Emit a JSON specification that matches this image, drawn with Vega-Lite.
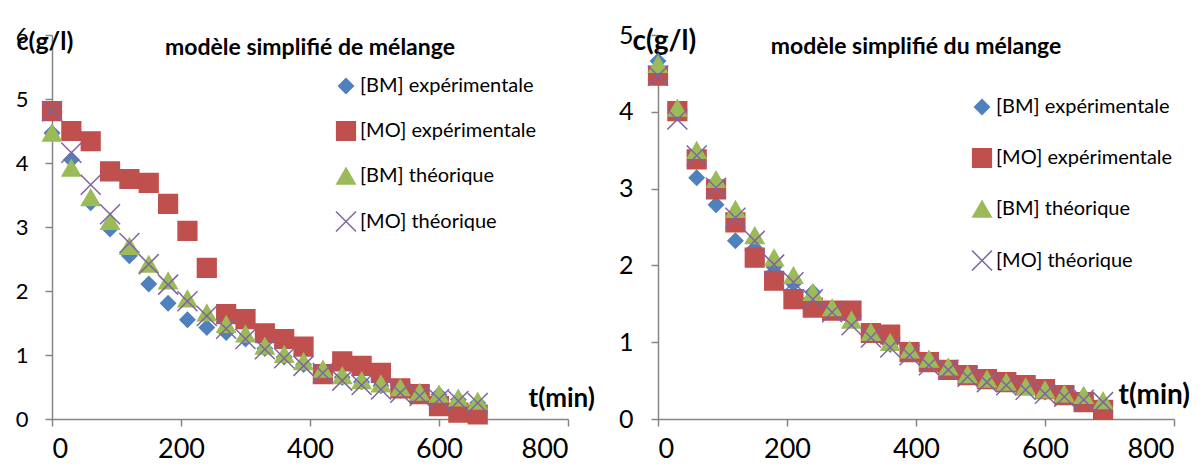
{
  "$schema": "https://vega.github.io/schema/vega-lite/v6.json",
  "padding": {"left": 15, "top": 23, "right": 5, "bottom": 5},
  "background": "white",
  "spacing": 23,
  "config": {
    "font": "Lato",
    "view": {"stroke": null},
    "axis": {"grid": false, "domainColor": "#868686", "domainWidth": 1.5, "tickColor": "#868686", "tickWidth": 1.5, "tickSize": 7, "labelFont": "Lato", "labelColor": "#000000", "titleFont": "Lato", "titleColor": "#000000", "titleFontWeight": "bold"},
    "legend": {"labelFont": "Lato", "labelFontSize": 20, "labelColor": "#000000", "labelLimit": 400, "symbolSize": 100, "symbolStrokeWidth": 1.5, "labelOffset": 3, "title": null},
    "title": {"font": "Lato", "fontWeight": "bold", "fontSize": 23, "color": "#000000"}
  },
  "datasets": {
    "left": [
      {"t":0,"c":4.47,"s":"[BM] expérimentale"},{"t":30,"c":4.05,"s":"[BM] expérimentale"},{"t":60,"c":3.38,"s":"[BM] expérimentale"},{"t":90,"c":2.97,"s":"[BM] expérimentale"},{"t":120,"c":2.55,"s":"[BM] expérimentale"},{"t":150,"c":2.11,"s":"[BM] expérimentale"},{"t":180,"c":1.81,"s":"[BM] expérimentale"},{"t":210,"c":1.55,"s":"[BM] expérimentale"},{"t":240,"c":1.43,"s":"[BM] expérimentale"},{"t":270,"c":1.35,"s":"[BM] expérimentale"},{"t":300,"c":1.25,"s":"[BM] expérimentale"},{"t":330,"c":1.1,"s":"[BM] expérimentale"},{"t":360,"c":0.97,"s":"[BM] expérimentale"},{"t":390,"c":0.85,"s":"[BM] expérimentale"},{"t":420,"c":0.72,"s":"[BM] expérimentale"},{"t":450,"c":0.65,"s":"[BM] expérimentale"},{"t":480,"c":0.58,"s":"[BM] expérimentale"},{"t":510,"c":0.52,"s":"[BM] expérimentale"},{"t":540,"c":0.45,"s":"[BM] expérimentale"},{"t":570,"c":0.4,"s":"[BM] expérimentale"},{"t":600,"c":0.38,"s":"[BM] expérimentale"},{"t":630,"c":0.3,"s":"[BM] expérimentale"},{"t":660,"c":0.25,"s":"[BM] expérimentale"},
      {"t":0,"c":4.81,"s":"[MO] expérimentale"},{"t":30,"c":4.5,"s":"[MO] expérimentale"},{"t":60,"c":4.34,"s":"[MO] expérimentale"},{"t":90,"c":3.87,"s":"[MO] expérimentale"},{"t":120,"c":3.75,"s":"[MO] expérimentale"},{"t":150,"c":3.69,"s":"[MO] expérimentale"},{"t":180,"c":3.36,"s":"[MO] expérimentale"},{"t":210,"c":2.94,"s":"[MO] expérimentale"},{"t":240,"c":2.36,"s":"[MO] expérimentale"},{"t":270,"c":1.64,"s":"[MO] expérimentale"},{"t":300,"c":1.56,"s":"[MO] expérimentale"},{"t":330,"c":1.34,"s":"[MO] expérimentale"},{"t":360,"c":1.25,"s":"[MO] expérimentale"},{"t":390,"c":1.13,"s":"[MO] expérimentale"},{"t":420,"c":0.7,"s":"[MO] expérimentale"},{"t":450,"c":0.9,"s":"[MO] expérimentale"},{"t":480,"c":0.83,"s":"[MO] expérimentale"},{"t":510,"c":0.72,"s":"[MO] expérimentale"},{"t":540,"c":0.48,"s":"[MO] expérimentale"},{"t":570,"c":0.39,"s":"[MO] expérimentale"},{"t":600,"c":0.2,"s":"[MO] expérimentale"},{"t":630,"c":0.1,"s":"[MO] expérimentale"},{"t":660,"c":0.07,"s":"[MO] expérimentale"},
      {"t":0,"c":4.47,"s":"[BM] théorique"},{"t":30,"c":3.92,"s":"[BM] théorique"},{"t":60,"c":3.46,"s":"[BM] théorique"},{"t":90,"c":3.09,"s":"[BM] théorique"},{"t":120,"c":2.7,"s":"[BM] théorique"},{"t":150,"c":2.42,"s":"[BM] théorique"},{"t":180,"c":2.16,"s":"[BM] théorique"},{"t":210,"c":1.88,"s":"[BM] théorique"},{"t":240,"c":1.66,"s":"[BM] théorique"},{"t":270,"c":1.48,"s":"[BM] théorique"},{"t":300,"c":1.33,"s":"[BM] théorique"},{"t":330,"c":1.14,"s":"[BM] théorique"},{"t":360,"c":1.01,"s":"[BM] théorique"},{"t":390,"c":0.9,"s":"[BM] théorique"},{"t":420,"c":0.78,"s":"[BM] théorique"},{"t":450,"c":0.68,"s":"[BM] théorique"},{"t":480,"c":0.6,"s":"[BM] théorique"},{"t":510,"c":0.55,"s":"[BM] théorique"},{"t":540,"c":0.49,"s":"[BM] théorique"},{"t":570,"c":0.42,"s":"[BM] théorique"},{"t":600,"c":0.39,"s":"[BM] théorique"},{"t":630,"c":0.33,"s":"[BM] théorique"},{"t":660,"c":0.28,"s":"[BM] théorique"},
      {"t":0,"c":4.81,"s":"[MO] théorique"},{"t":30,"c":4.16,"s":"[MO] théorique"},{"t":60,"c":3.66,"s":"[MO] théorique"},{"t":90,"c":3.2,"s":"[MO] théorique"},{"t":120,"c":2.75,"s":"[MO] théorique"},{"t":150,"c":2.42,"s":"[MO] théorique"},{"t":180,"c":2.1,"s":"[MO] théorique"},{"t":210,"c":1.84,"s":"[MO] théorique"},{"t":240,"c":1.61,"s":"[MO] théorique"},{"t":270,"c":1.41,"s":"[MO] théorique"},{"t":300,"c":1.25,"s":"[MO] théorique"},{"t":330,"c":1.09,"s":"[MO] théorique"},{"t":360,"c":0.95,"s":"[MO] théorique"},{"t":390,"c":0.83,"s":"[MO] théorique"},{"t":420,"c":0.72,"s":"[MO] théorique"},{"t":450,"c":0.6,"s":"[MO] théorique"},{"t":480,"c":0.53,"s":"[MO] théorique"},{"t":510,"c":0.46,"s":"[MO] théorique"},{"t":540,"c":0.41,"s":"[MO] théorique"},{"t":570,"c":0.36,"s":"[MO] théorique"},{"t":600,"c":0.31,"s":"[MO] théorique"},{"t":630,"c":0.28,"s":"[MO] théorique"},{"t":660,"c":0.25,"s":"[MO] théorique"}
    ],
    "right": [
      {"t":0,"c":4.66,"s":"[BM] expérimentale"},{"t":30,"c":4.0,"s":"[BM] expérimentale"},{"t":60,"c":3.14,"s":"[BM] expérimentale"},{"t":90,"c":2.79,"s":"[BM] expérimentale"},{"t":120,"c":2.32,"s":"[BM] expérimentale"},{"t":150,"c":2.2,"s":"[BM] expérimentale"},{"t":180,"c":1.98,"s":"[BM] expérimentale"},{"t":210,"c":1.76,"s":"[BM] expérimentale"},{"t":240,"c":1.65,"s":"[BM] expérimentale"},{"t":270,"c":1.42,"s":"[BM] expérimentale"},{"t":300,"c":1.3,"s":"[BM] expérimentale"},{"t":330,"c":1.12,"s":"[BM] expérimentale"},{"t":360,"c":0.97,"s":"[BM] expérimentale"},{"t":390,"c":0.86,"s":"[BM] expérimentale"},{"t":420,"c":0.76,"s":"[BM] expérimentale"},{"t":450,"c":0.65,"s":"[BM] expérimentale"},{"t":480,"c":0.55,"s":"[BM] expérimentale"},{"t":510,"c":0.5,"s":"[BM] expérimentale"},{"t":540,"c":0.46,"s":"[BM] expérimentale"},{"t":570,"c":0.42,"s":"[BM] expérimentale"},{"t":600,"c":0.35,"s":"[BM] expérimentale"},{"t":630,"c":0.3,"s":"[BM] expérimentale"},{"t":660,"c":0.29,"s":"[BM] expérimentale"},{"t":690,"c":0.2,"s":"[BM] expérimentale"},
      {"t":0,"c":4.47,"s":"[MO] expérimentale"},{"t":30,"c":4.01,"s":"[MO] expérimentale"},{"t":60,"c":3.38,"s":"[MO] expérimentale"},{"t":90,"c":2.99,"s":"[MO] expérimentale"},{"t":120,"c":2.56,"s":"[MO] expérimentale"},{"t":150,"c":2.1,"s":"[MO] expérimentale"},{"t":180,"c":1.8,"s":"[MO] expérimentale"},{"t":210,"c":1.56,"s":"[MO] expérimentale"},{"t":240,"c":1.45,"s":"[MO] expérimentale"},{"t":270,"c":1.41,"s":"[MO] expérimentale"},{"t":300,"c":1.41,"s":"[MO] expérimentale"},{"t":330,"c":1.12,"s":"[MO] expérimentale"},{"t":360,"c":1.1,"s":"[MO] expérimentale"},{"t":390,"c":0.87,"s":"[MO] expérimentale"},{"t":420,"c":0.74,"s":"[MO] expérimentale"},{"t":450,"c":0.64,"s":"[MO] expérimentale"},{"t":480,"c":0.57,"s":"[MO] expérimentale"},{"t":510,"c":0.52,"s":"[MO] expérimentale"},{"t":540,"c":0.48,"s":"[MO] expérimentale"},{"t":570,"c":0.44,"s":"[MO] expérimentale"},{"t":600,"c":0.39,"s":"[MO] expérimentale"},{"t":630,"c":0.31,"s":"[MO] expérimentale"},{"t":660,"c":0.22,"s":"[MO] expérimentale"},{"t":690,"c":0.12,"s":"[MO] expérimentale"},
      {"t":0,"c":4.62,"s":"[BM] théorique"},{"t":30,"c":4.05,"s":"[BM] théorique"},{"t":60,"c":3.5,"s":"[BM] théorique"},{"t":90,"c":3.12,"s":"[BM] théorique"},{"t":120,"c":2.73,"s":"[BM] théorique"},{"t":150,"c":2.39,"s":"[BM] théorique"},{"t":180,"c":2.1,"s":"[BM] théorique"},{"t":210,"c":1.87,"s":"[BM] théorique"},{"t":240,"c":1.65,"s":"[BM] théorique"},{"t":270,"c":1.45,"s":"[BM] théorique"},{"t":300,"c":1.29,"s":"[BM] théorique"},{"t":330,"c":1.13,"s":"[BM] théorique"},{"t":360,"c":1.0,"s":"[BM] théorique"},{"t":390,"c":0.9,"s":"[BM] théorique"},{"t":420,"c":0.78,"s":"[BM] théorique"},{"t":450,"c":0.68,"s":"[BM] théorique"},{"t":480,"c":0.58,"s":"[BM] théorique"},{"t":510,"c":0.52,"s":"[BM] théorique"},{"t":540,"c":0.48,"s":"[BM] théorique"},{"t":570,"c":0.42,"s":"[BM] théorique"},{"t":600,"c":0.38,"s":"[BM] théorique"},{"t":630,"c":0.33,"s":"[BM] théorique"},{"t":660,"c":0.31,"s":"[BM] théorique"},{"t":690,"c":0.24,"s":"[BM] théorique"},
      {"t":0,"c":4.47,"s":"[MO] théorique"},{"t":30,"c":3.9,"s":"[MO] théorique"},{"t":60,"c":3.43,"s":"[MO] théorique"},{"t":90,"c":3.01,"s":"[MO] théorique"},{"t":120,"c":2.62,"s":"[MO] théorique"},{"t":150,"c":2.32,"s":"[MO] théorique"},{"t":180,"c":2.01,"s":"[MO] théorique"},{"t":210,"c":1.78,"s":"[MO] théorique"},{"t":240,"c":1.56,"s":"[MO] théorique"},{"t":270,"c":1.39,"s":"[MO] théorique"},{"t":300,"c":1.22,"s":"[MO] théorique"},{"t":330,"c":1.06,"s":"[MO] théorique"},{"t":360,"c":0.93,"s":"[MO] théorique"},{"t":390,"c":0.83,"s":"[MO] théorique"},{"t":420,"c":0.7,"s":"[MO] théorique"},{"t":450,"c":0.64,"s":"[MO] théorique"},{"t":480,"c":0.55,"s":"[MO] théorique"},{"t":510,"c":0.48,"s":"[MO] théorique"},{"t":540,"c":0.44,"s":"[MO] théorique"},{"t":570,"c":0.38,"s":"[MO] théorique"},{"t":600,"c":0.33,"s":"[MO] théorique"},{"t":630,"c":0.29,"s":"[MO] théorique"},{"t":660,"c":0.25,"s":"[MO] théorique"},{"t":690,"c":0.22,"s":"[MO] théorique"}
    ]
  },
  "resolve": {"scale": {"color": "independent", "stroke": "independent", "shape": "independent", "size": "independent"}, "legend": {"color": "independent", "stroke": "independent", "shape": "independent"}},
  "hconcat": [
    {
      "width": 516, "height": 384,
      "data": {"name": "left"},
      "title": {"text": "modèle simplifié de mélange", "anchor": "middle", "offset": -36},
      "mark": {"type": "point", "filled": true, "strokeWidth": 1.5, "opacity": 1},
      "encoding": {
        "x": {"field": "t", "type": "quantitative", "scale": {"domain": [0, 800], "nice": false}, "axis": {"values": [0, 200, 400, 600, 800], "labelFontSize": 27, "labelPadding": 10, "title": "t(min)", "titleAngle": 0, "titleFontSize": 26, "titleAlign": "left", "titleBaseline": "middle", "titleX": 476, "titleY": -21}},
        "y": {"field": "c", "type": "quantitative", "scale": {"domain": [0, 6], "nice": false}, "axis": {"values": [0, 1, 2, 3, 4, 5, 6], "labelFontSize": 22, "labelPadding": 17, "title": "c(g/l)", "titleAngle": 0, "titleFontSize": 25, "titleAlign": "left", "titleBaseline": "middle", "titleX": -36, "titleY": 6}},
        "color": {"field": "s", "type": "nominal", "scale": {"domain": ["[BM] expérimentale", "[MO] expérimentale", "[BM] théorique", "[MO] théorique"], "range": ["#4F81BD", "#C0504D", "#9BBB59", "#8064A2"]}, "legend": {"orient": "none", "legendX": 283, "legendY": 41, "rowPadding": 21.5}},
        "stroke": {"field": "s", "type": "nominal", "scale": {"domain": ["[BM] expérimentale", "[MO] expérimentale", "[BM] théorique", "[MO] théorique"], "range": ["#4F81BD", "#C0504D", "#9BBB59", "#8064A2"]}, "legend": {"orient": "none", "legendX": 283, "legendY": 41, "rowPadding": 21.5}},
        "shape": {"field": "s", "type": "nominal", "scale": {"domain": ["[BM] expérimentale", "[MO] expérimentale", "[BM] théorique", "[MO] théorique"], "range": ["diamond", "square", "triangle-up", "M-1,-1L1,1M-1,1L1,-1"]}, "legend": {"orient": "none", "legendX": 283, "legendY": 41, "rowPadding": 21.5}},
        "size": {"field": "s", "type": "nominal", "scale": {"type": "ordinal", "domain": ["[BM] expérimentale", "[MO] expérimentale", "[BM] théorique", "[MO] théorique"], "range": [220, 350, 340, 400]}, "legend": null}
      }
    },
    {
      "width": 516, "height": 384,
      "data": {"name": "right"},
      "title": {"text": "modèle simplifié du mélange", "anchor": "middle", "offset": -36},
      "mark": {"type": "point", "filled": true, "strokeWidth": 1.5, "opacity": 1},
      "encoding": {
        "x": {"field": "t", "type": "quantitative", "scale": {"domain": [0, 800], "nice": false}, "axis": {"values": [0, 200, 400, 600, 800], "labelFontSize": 27, "labelPadding": 10, "title": "t(min)", "titleAngle": 0, "titleFontSize": 28, "titleAlign": "left", "titleBaseline": "middle", "titleX": 460, "titleY": -24}},
        "y": {"field": "c", "type": "quantitative", "scale": {"domain": [0, 5], "nice": false}, "axis": {"values": [0, 1, 2, 3, 4, 5], "labelFontSize": 25, "labelPadding": 18, "title": "c(g/l)", "titleAngle": 0, "titleFontSize": 28, "titleAlign": "left", "titleBaseline": "middle", "titleX": -26, "titleY": 6}},
        "color": {"field": "s", "type": "nominal", "scale": {"domain": ["[BM] expérimentale", "[MO] expérimentale", "[BM] théorique", "[MO] théorique"], "range": ["#4F81BD", "#C0504D", "#9BBB59", "#8064A2"]}, "legend": {"orient": "none", "legendX": 313, "legendY": 62, "rowPadding": 27.5}},
        "stroke": {"field": "s", "type": "nominal", "scale": {"domain": ["[BM] expérimentale", "[MO] expérimentale", "[BM] théorique", "[MO] théorique"], "range": ["#4F81BD", "#C0504D", "#9BBB59", "#8064A2"]}, "legend": {"orient": "none", "legendX": 313, "legendY": 62, "rowPadding": 27.5}},
        "shape": {"field": "s", "type": "nominal", "scale": {"domain": ["[BM] expérimentale", "[MO] expérimentale", "[BM] théorique", "[MO] théorique"], "range": ["diamond", "square", "triangle-up", "M-1,-1L1,1M-1,1L1,-1"]}, "legend": {"orient": "none", "legendX": 313, "legendY": 62, "rowPadding": 27.5}},
        "size": {"field": "s", "type": "nominal", "scale": {"type": "ordinal", "domain": ["[BM] expérimentale", "[MO] expérimentale", "[BM] théorique", "[MO] théorique"], "range": [220, 350, 340, 400]}, "legend": null}
      }
    }
  ]
}
